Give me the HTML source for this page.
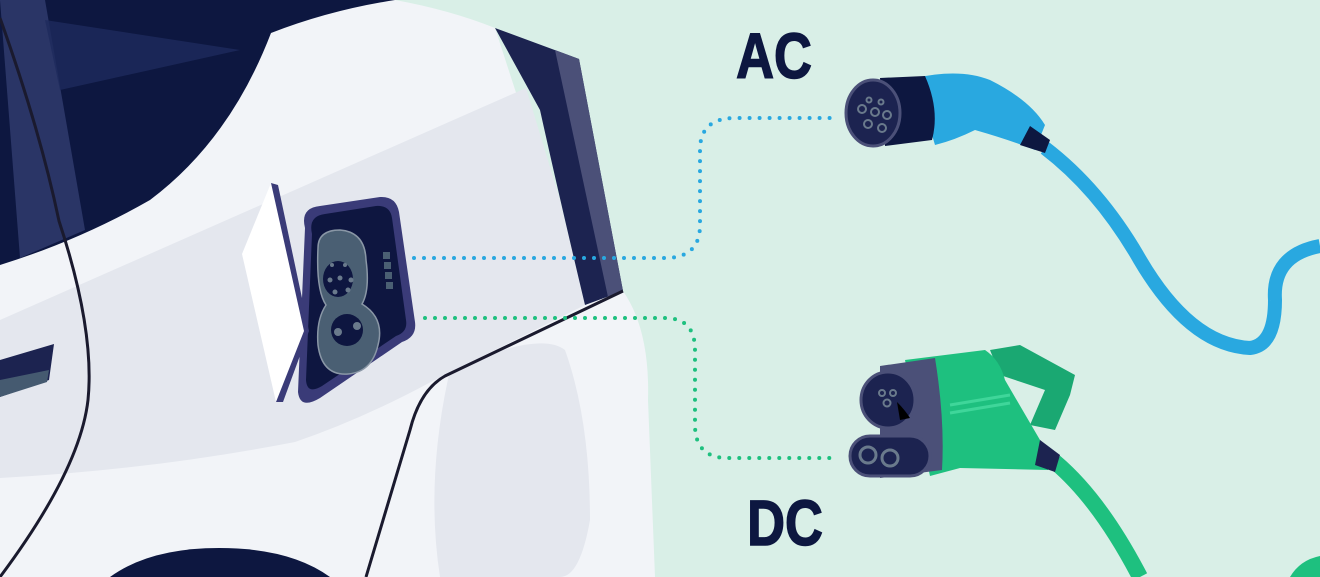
<!DOCTYPE html>
<html><head><meta charset="utf-8"><style>
html,body{margin:0;padding:0;width:1320px;height:577px;overflow:hidden;background:#d9efe7}
svg{display:block;overflow:hidden}
</style></head><body>
<svg width="1320" height="577" viewBox="0 0 1320 577" xmlns="http://www.w3.org/2000/svg">
<rect width="1320" height="577" fill="#d9efe7"/>
<!-- car body -->
<path d="M0 0 L395 0 Q450 10 495 28 L585 305 L623 291 Q650 330 648 400 L655 577 L0 577 Z" fill="#f2f4f8"/>
<!-- lighter grey band -->
<path d="M0 320 L526 88 L560 200 L585 305 L429 383 Q360 420 295 442 Q150 470 0 478 Z" fill="#e4e7ee"/>
<path d="M450 370 Q540 330 565 350 Q590 420 590 520 Q580 577 560 577 L440 577 Q425 480 450 370 Z" fill="#e4e7ee"/>
<!-- window -->
<path d="M0 0 L395 0 Q330 10 271 33 Q230 140 150 200 Q80 240 0 265 Z" fill="#0d1740"/>
<path d="M0 0 L45 0 L85 230 L20 258 Z" fill="#2a3566"/>
<path d="M45 20 L240 50 L60 90 Z" fill="#1e2a5c" opacity="0.8"/>
<!-- pillar -->
<path d="M495 28 L579 59 L623 291 L585 305 Q560 200 540 110 Z" fill="#1c2350"/>
<path d="M555 50 L579 59 L623 291 L608 297 Z" fill="#4b5078"/>
<!-- slot -->
<path d="M0 360 L54 344 L49 380 L0 397 Z" fill="#1c2350"/>
<path d="M0 380 L49 370 L47 382 L0 397 Z" fill="#455a70"/>
<!-- door lines -->
<path d="M0 18 Q40 130 59 221 Q95 330 88 400 Q80 470 0 577" stroke="#1a1a2e" stroke-width="3" fill="none"/>
<path d="M623 291 L445 376 Q420 390 410 430 L366 577" stroke="#1a1a2e" stroke-width="3" fill="none"/>
<!-- wheel arch -->
<path d="M110 577 Q150 548 219 548 Q290 548 330 577 Z" fill="#0d1740"/>
<!-- port housing -->
<path d="M305 228 Q300 208 320 206 L380 197 Q396 196 399 212 L415 322 Q417 337 402 342 L320 398 Q300 410 298 392 Z" fill="#3a3b78"/>
<path d="M312 234 Q308 216 325 214 L376 206 Q390 205 392 218 L406 320 Q408 332 396 336 L322 386 Q307 395 306 380 Z" fill="#0e1640"/>
<path d="M318 248 Q318 230 340 230 Q365 232 366 260 Q370 290 362 304 Q385 318 378 345 Q372 372 348 374 Q322 376 318 345 Q316 320 326 305 Q316 290 318 248 Z" fill="#4a5f73" stroke="#8a97a6" stroke-width="1.5"/>
<ellipse cx="338" cy="279" rx="15" ry="18" fill="#0e1640"/>
<ellipse cx="347" cy="330" rx="16" ry="16" fill="#0e1640"/>
<g fill="#6a7a8c"><circle cx="332" cy="265" r="2"/><circle cx="345" cy="265" r="2"/><circle cx="330" cy="280" r="2.5"/><circle cx="340" cy="278" r="2.5"/><circle cx="351" cy="280" r="2.5"/><circle cx="335" cy="292" r="2.5"/><circle cx="348" cy="290" r="2.5"/><circle cx="338" cy="332" r="4"/><circle cx="357" cy="326" r="4"/></g>
<g fill="#4a5f73"><rect x="383" y="252" width="7" height="7"/><rect x="384" y="262" width="7" height="7"/><rect x="385" y="272" width="7" height="7"/><rect x="386" y="282" width="7" height="7"/></g>
<!-- flap -->
<path d="M271 183 L278 185 L309 331 L283 402 L276 402 Z" fill="#3a3b78"/>
<path d="M271 183 L242 254 L276 402 L304 331 Z" fill="#ffffff"/>
<!-- dotted lines -->
<path d="M414 258 L665 258 Q700 258 700 225 L700 150 Q700 118 735 118 L830 118" stroke="#29a8e0" stroke-width="4" stroke-linecap="round" stroke-dasharray="0 10" fill="none"/>
<path d="M425 318 L665 318 Q695 318 695 350 L695 425 Q695 458 728 458 L830 458" stroke="#1ec07f" stroke-width="4" stroke-linecap="round" stroke-dasharray="0 10" fill="none"/>
<!-- labels -->
<text x="774" y="78" font-family="Liberation Sans Narrow, Liberation Sans, sans-serif" font-weight="bold" font-size="64" fill="#0d1740" text-anchor="middle" stroke="#0d1740" stroke-width="1.5" transform="translate(774 0) scale(0.82 1) translate(-774 0)">AC</text>
<text x="785" y="545" font-family="Liberation Sans Narrow, Liberation Sans, sans-serif" font-weight="bold" font-size="64" fill="#0d1740" text-anchor="middle" stroke="#0d1740" stroke-width="1.5" transform="translate(785 0) scale(0.82 1) translate(-785 0)">DC</text>
<!-- AC cable -->
<path d="M1045 148 Q1100 190 1140 260 Q1190 345 1250 348 Q1275 345 1275 300 Q1272 255 1320 246" stroke="#29a8e0" stroke-width="14" fill="none"/>
<!-- AC plug -->
<path d="M915 78 Q960 68 990 80 Q1030 100 1045 125 L1035 150 Q1010 140 975 130 Q955 140 935 145 Z" fill="#29a8e0"/>
<path d="M1030 126 L1050 140 L1045 153 L1020 145 Z" fill="#0d1740"/>
<path d="M880 78 L925 76 Q940 110 932 140 L885 146 Z" fill="#0d1740"/>
<ellipse cx="873" cy="113" rx="27" ry="33" fill="#1c2350" stroke="#4b5078" stroke-width="3"/>
<g fill="none" stroke="#6a7a8c" stroke-width="2"><circle cx="862" cy="109" r="4"/><circle cx="875" cy="112" r="4"/><circle cx="887" cy="115" r="4"/><circle cx="868" cy="124" r="4"/><circle cx="882" cy="128" r="4"/><circle cx="869" cy="100" r="2.5"/><circle cx="881" cy="102" r="2.5"/></g>
<!-- DC cable -->
<path d="M1055 462 Q1100 500 1140 577" stroke="#1ec07f" stroke-width="16" fill="none"/>
<path d="M1290 577 Q1300 560 1320 556 L1320 577 Z" fill="#1ec07f"/>
<!-- DC plug -->
<path d="M990 350 L1020 345 L1075 375 L1070 395 L1055 430 L1030 425 L1045 390 L1000 375 Z" fill="#1aa872"/>
<path d="M905 360 L985 350 Q1000 360 1005 380 L1040 440 L1055 455 L1048 470 L960 468 L930 476 Z" fill="#1ec07f"/>
<path d="M1040 440 L1060 455 L1055 472 L1035 465 Z" fill="#1c2350"/>
<path d="M950 405 L1010 395 M950 413 L1010 403" stroke="#3fd69a" stroke-width="3"/>
<path d="M880 366 L935 358 Q945 420 942 470 L880 478 Z" fill="#4b5078"/>
<ellipse cx="888" cy="400" rx="27" ry="28" fill="#1c2350" stroke="#4b5078" stroke-width="3"/>
<path d="M897 402 Q905 410 910 418 L900 420 Z" fill="#000"/>
<g fill="none" stroke="#6a7a8c" stroke-width="2"><circle cx="882" cy="393" r="3"/><circle cx="893" cy="393" r="3"/><circle cx="887" cy="403" r="3.5"/></g>
<rect x="850" y="436" width="80" height="40" rx="20" fill="#1c2350" stroke="#4b5078" stroke-width="3"/>
<circle cx="868" cy="455" r="8" fill="#1c2350" stroke="#6a7a8c" stroke-width="3"/>
<circle cx="890" cy="458" r="8" fill="#1c2350" stroke="#6a7a8c" stroke-width="3"/>
</svg>
</body></html>
